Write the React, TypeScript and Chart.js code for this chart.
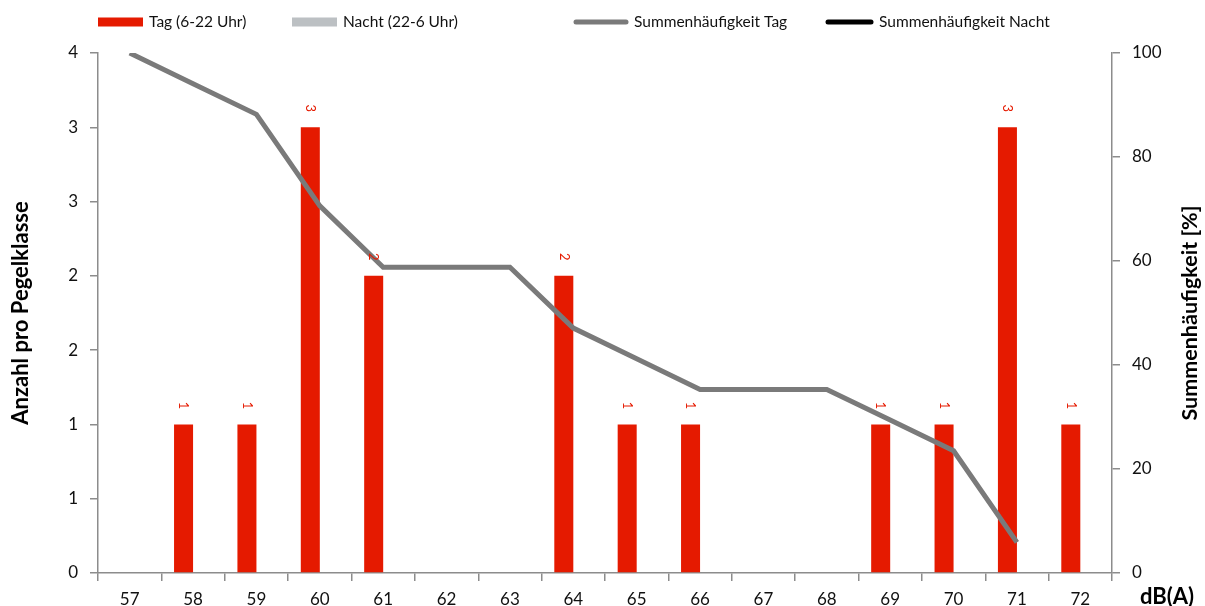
import React, { useEffect, useRef } from "react";
import { Chart, registerables } from "chart.js";

Chart.register(...registerables);

const categories = ["57", "58", "59", "60", "61", "62", "63", "64", "65", "66", "67", "68", "69", "70", "71", "72"];
const tagCounts = [null, 1, 1, 3, 2, null, null, 2, 1, 1, null, null, 1, 1, 3, 1];
const nachtCounts = [null, null, null, null, null, null, null, null, null, null, null, null, null, null, null, null];
const sumTag = [100, 94.1, 88.2, 70.6, 58.8, 58.8, 58.8, 47.1, 41.2, 35.3, 35.3, 35.3, 29.4, 23.5, 5.9, null];
const sumNacht = [null, null, null, null, null, null, null, null, null, null, null, null, null, null, null, null];

const seriesLabels = ["Tag (6-22 Uhr)", "Nacht (22-6 Uhr)", "Summenhäufigkeit Tag", "Summenhäufigkeit Nacht"];
const leftTitle = "Anzahl pro Pegelklasse";
const rightTitle = "Summenhäufigkeit [%]";
const xTitle = "dB(A)";

const RED = "#E51A00";
const NIGHT = "#BCC0C3";
const LINE_DAY = "#7A7A7A";
const LINE_NIGHT = "#000000";
const AXIS = "#8C8C8C";
const FONT = "Lato, 'Liberation Sans', sans-serif";

const extrasPlugin = {
  id: "extras",
  afterDatasetsDraw(chart: any) {
    const ctx = chart.ctx;
    const meta = chart.getDatasetMeta(0);
    ctx.save();
    ctx.fillStyle = RED;
    ctx.font = `13px ${FONT}`;
    ctx.textAlign = "center";
    ctx.textBaseline = "middle";
    meta.data.forEach((el: any, i: number) => {
      const v = tagCounts[i];
      if (v == null) return;
      ctx.save();
      ctx.translate(el.x, el.y - 19);
      ctx.rotate(Math.PI / 2);
      ctx.fillText(String(v), 0, 0);
      ctx.restore();
    });
    ctx.restore();
  },
  afterDraw(chart: any) {
    const ctx = chart.ctx;
    ctx.save();
    const items = [
      { x: 98, w: 45, kind: "box", color: RED },
      { x: 292, w: 45, kind: "box", color: NIGHT },
      { x: 574, w: 54, kind: "line", color: LINE_DAY },
      { x: 826, w: 47, kind: "line", color: LINE_NIGHT },
    ];
    const ly = 22;
    ctx.font = `15.5px ${FONT}`;
    ctx.textBaseline = "middle";
    ctx.textAlign = "left";
    items.forEach((it, i) => {
      if (it.kind === "box") {
        ctx.fillStyle = it.color;
        ctx.fillRect(it.x, ly - 4.5, it.w, 9);
      } else {
        ctx.strokeStyle = it.color;
        ctx.lineWidth = 5;
        ctx.lineCap = "round";
        ctx.beginPath();
        ctx.moveTo(it.x + 2, ly);
        ctx.lineTo(it.x + it.w - 2, ly);
        ctx.stroke();
      }
      ctx.fillStyle = "#111";
      ctx.fillText(seriesLabels[i], it.x + it.w + 6, ly);
    });
    ctx.font = `bold 21.5px ${FONT}`;
    ctx.fillStyle = "#000";
    ctx.textAlign = "center";
    const area = chart.chartArea;
    ctx.save();
    ctx.translate(1190, (area.top + area.bottom) / 2);
    ctx.rotate(-Math.PI / 2);
    ctx.fillText(rightTitle, 0, 0);
    ctx.restore();
    ctx.font = `bold 22px ${FONT}`;
    ctx.fillText(xTitle, 1167, 597);
    ctx.restore();
  },
};

export default function App() {
  const ref = useRef<HTMLCanvasElement | null>(null);
  useEffect(() => {
    if (!ref.current) return;
    const tickFont = { family: FONT, size: 17 };
    const chart = new Chart(ref.current, {
      type: "bar",
      data: {
        labels: categories,
        datasets: [
          { type: "bar", label: seriesLabels[0], data: tagCounts as any, backgroundColor: RED, yAxisID: "y", order: 2, categoryPercentage: 0.6, barPercentage: 1 },
          { type: "bar", label: seriesLabels[1], data: nachtCounts as any, backgroundColor: NIGHT, yAxisID: "y", order: 2, categoryPercentage: 0.6, barPercentage: 1 },
          { type: "line", label: seriesLabels[2], data: sumTag as any, borderColor: LINE_DAY, backgroundColor: LINE_DAY, borderWidth: 5, pointRadius: 0, tension: 0, yAxisID: "y1", order: 0, spanGaps: false },
          { type: "line", label: seriesLabels[3], data: sumNacht as any, borderColor: LINE_NIGHT, backgroundColor: LINE_NIGHT, borderWidth: 5, pointRadius: 0, tension: 0, yAxisID: "y1", order: 0 },
        ],
      } as any,
      options: {
        animation: false,
        responsive: true,
        maintainAspectRatio: false,
        layout: { padding: { top: 53, left: 0, right: 0, bottom: 0 } },
        plugins: { legend: { display: false }, tooltip: { enabled: false } },
        scales: {
          x: {
            offset: true,
            grid: { offset: true, drawOnChartArea: false, drawTicks: true, tickLength: 8, color: AXIS, lineWidth: 1.5 },
            border: { color: AXIS, width: 1.5 },
            ticks: { font: tickFont, color: "#111", padding: 8, maxRotation: 0, autoSkip: false },
            afterFit: (s: any) => { s.height = 33; },
          },
          y: {
            position: "left",
            min: 0,
            max: 3.5,
            grid: { drawOnChartArea: false, drawTicks: true, tickLength: 8, color: AXIS, lineWidth: 1.5 },
            border: { color: AXIS, width: 1.5 },
            ticks: { stepSize: 0.5, font: tickFont, color: "#111", padding: 12, callback: (v: any) => String(Math.round(Number(v))) },
            title: { display: true, text: leftTitle, font: { family: FONT, size: 22, weight: "bold" }, color: "#000", padding: { top: 8, bottom: 0 } },
            afterFit: (s: any) => { s.width = 98; },
          },
          y1: {
            position: "right",
            min: 0,
            max: 100,
            grid: { drawOnChartArea: false, drawTicks: true, tickLength: 8, color: AXIS, lineWidth: 1.5 },
            border: { color: AXIS, width: 1.5 },
            ticks: { stepSize: 20, font: tickFont, color: "#111", padding: 12 },
            afterFit: (s: any) => { s.width = 93; },
          },
        },
      } as any,
      plugins: [extrasPlugin],
    });
    return () => chart.destroy();
  }, []);
  return (
    <div style={{ position: "fixed", left: 0, top: 0, width: 1205, height: 606, background: "#fff" }}>
      <canvas ref={ref} />
    </div>
  );
}
